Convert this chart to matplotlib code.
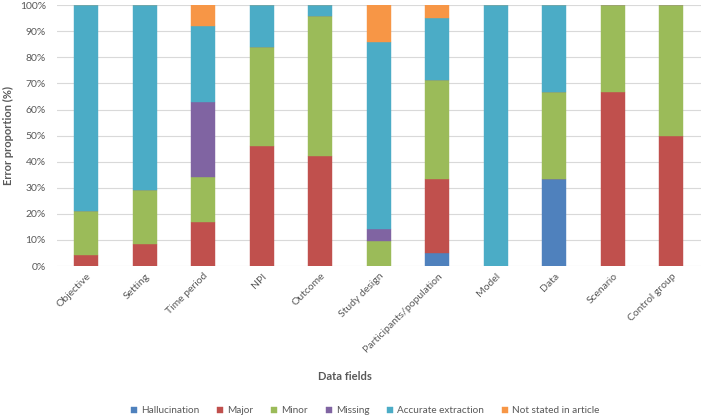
import matplotlib
matplotlib.use("Agg")
import matplotlib.pyplot as plt
import numpy as np

categories = ["Objective", "Setting", "Time period", "NPI", "Outcome", "Study design",
              "Participants/population", "Model", "Data", "Scenario", "Control group"]
hallucination = [0, 0, 0, 0, 0, 0, 4.8, 0, 33.3, 0, 0]
major = [4.2, 8.3, 17, 46, 42, 0, 28.6, 0, 0, 66.7, 50]
minor = [17, 21, 17, 38, 54, 9.5, 38.1, 0, 33.3, 33.3, 50]
missing = [0, 0, 29, 0, 0, 4.8, 0, 0, 0, 0, 0]
accurate = [78.8, 70.7, 29, 16, 4, 71.4, 23.7, 100, 33.4, 0, 0]
not_stated = [0, 0, 8, 0, 0, 14.3, 4.8, 0, 0, 0, 0]

series = [
    ("Hallucination", hallucination, "#4F81BD"),
    ("Major", major, "#C0504D"),
    ("Minor", minor, "#9BBB59"),
    ("Missing", missing, "#8064A2"),
    ("Accurate extraction", accurate, "#4BACC6"),
    ("Not stated in article", not_stated, "#F79646"),
]

plt.rcParams['font.family'] = ['Lato', 'DejaVu Sans']
fig = plt.figure(figsize=(7.02, 4.18), dpi=100)
ax = fig.add_axes([0.0812, 0.3636, 0.917, 0.624])

x = np.arange(len(categories))
bottom = np.zeros(len(categories))
handles = []
for name, vals, col in series:
    v = np.array(vals, dtype=float)
    b = ax.bar(x, v, 0.41, bottom=bottom, color=col, label=name, zorder=3,
               edgecolor=col, linewidth=0.3)
    bottom += v
    handles.append(b)

ax.set_xlim(-0.5, len(categories) - 0.5)
ax.set_ylim(0, 100)
ax.set_yticks(np.arange(0, 101, 10))
ax.set_yticklabels([f"{t}%" for t in range(0, 101, 10)])
ax.grid(axis='y', color='#d9d9d9', linewidth=0.8, zorder=0)
for s in ax.spines.values():
    s.set_visible(False)
ax.tick_params(axis='both', length=0, colors='#595959', labelsize=7.5)
ax.tick_params(axis='y', pad=8)
ax.set_xticks(x)
ax.set_xticklabels(categories, rotation=45, ha='right', rotation_mode='anchor')
ax.tick_params(axis='x', pad=4)
ax.set_ylabel("Error proportion (%)", fontsize=8, fontweight='bold', color='#595959', labelpad=4)
fig.text(0.491, 0.100, "Data fields", ha='center', va='center', fontsize=8,
         fontweight='bold', color='#595959')
fig.legend(handles=handles, loc='center', bbox_to_anchor=(0.52, 0.017), ncol=6,
           frameon=False, fontsize=7.2, handlelength=0.6, handleheight=0.6,
           handletextpad=0.4, columnspacing=1.8, labelcolor='#595959')
fig.savefig("out.png", dpi=100)
